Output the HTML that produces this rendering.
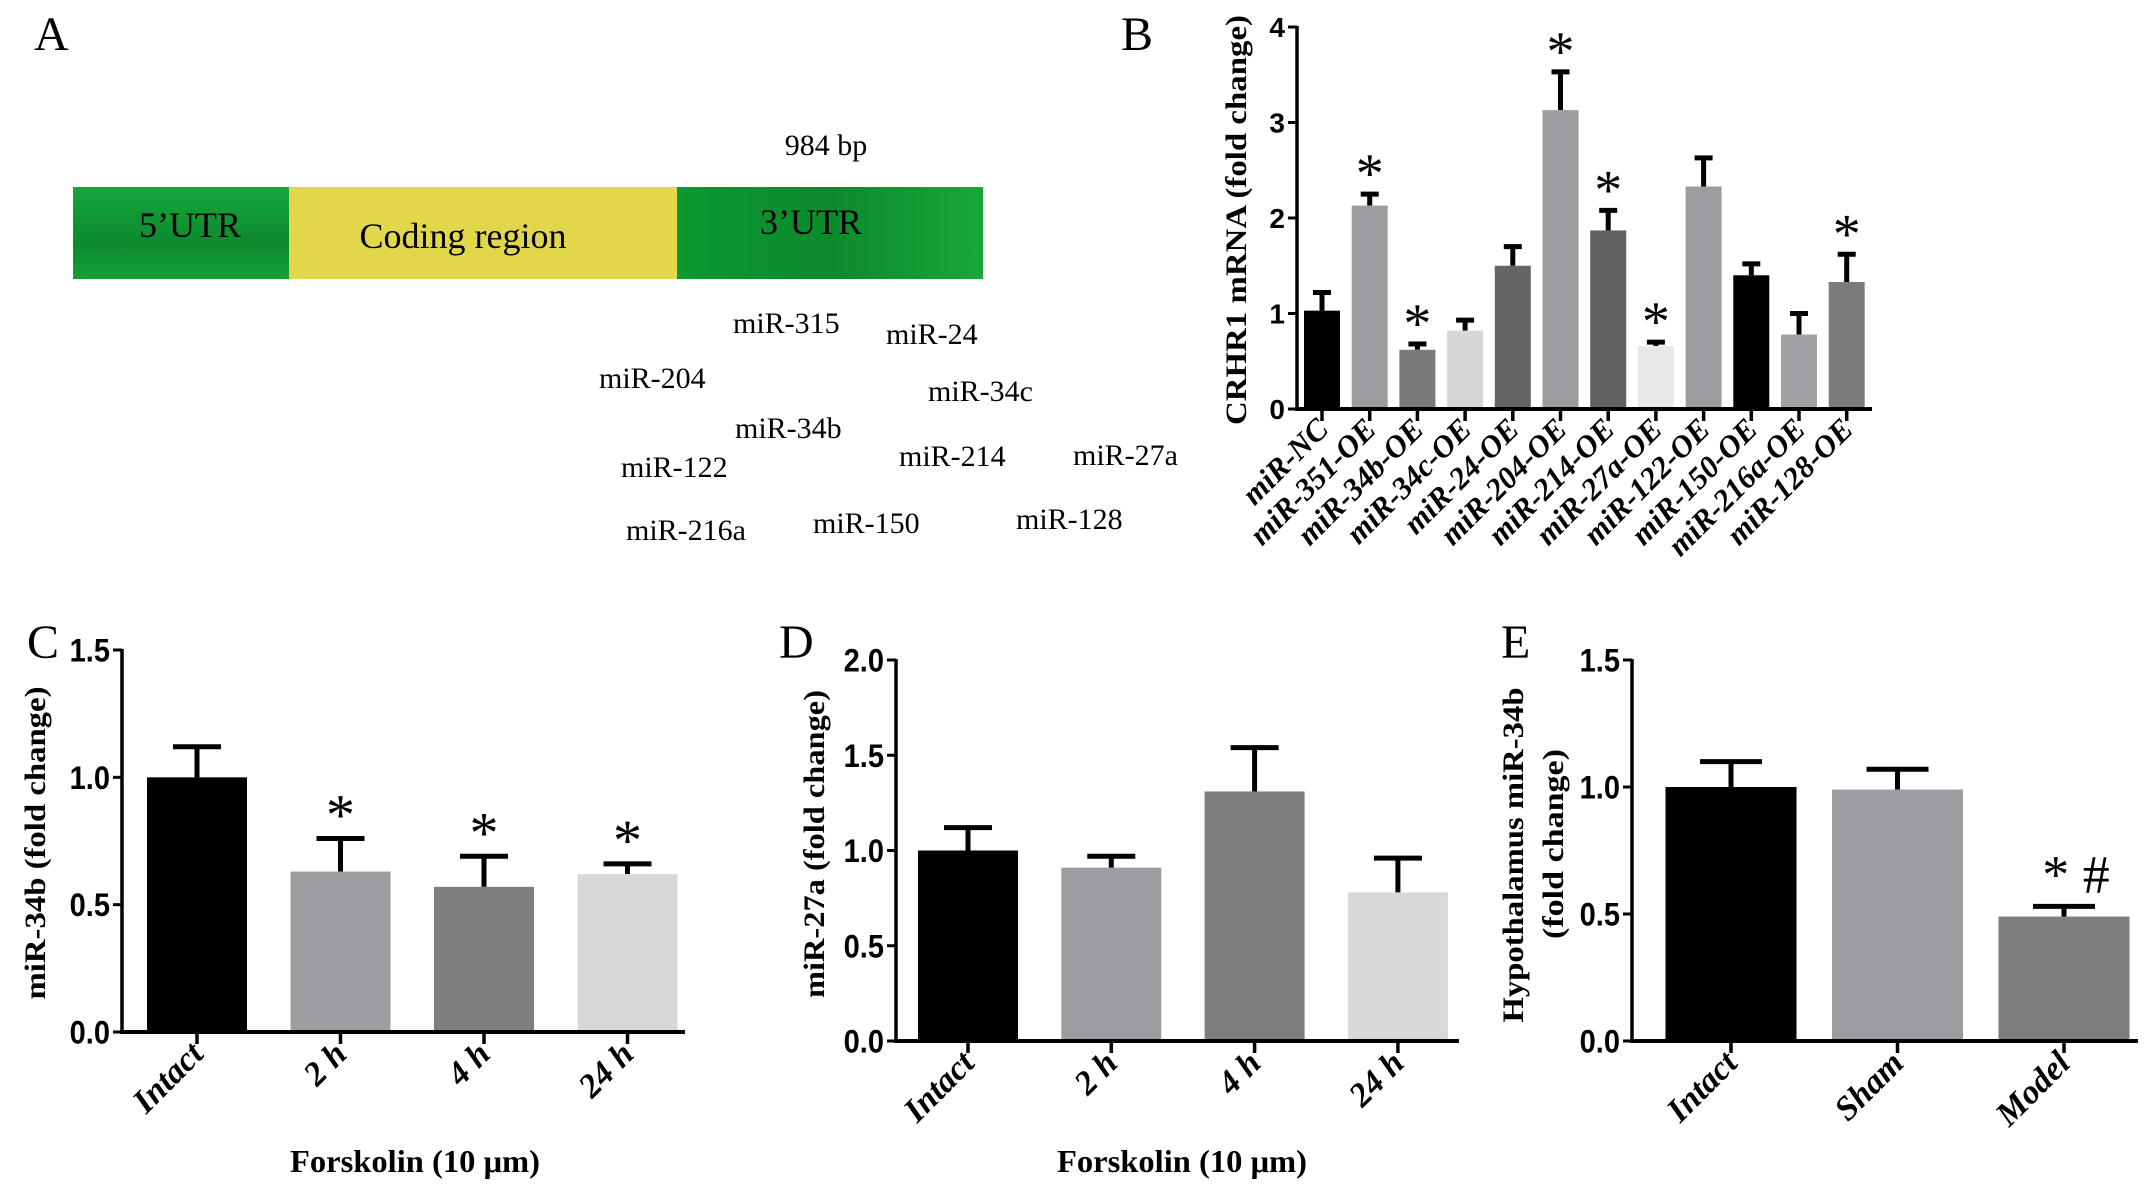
<!DOCTYPE html>
<html><head><meta charset="utf-8"><style>
html,body{margin:0;padding:0;background:#fff;}
svg{display:block;}
.serif{font-family:"Liberation Serif",serif;}
.sans{font-family:"Liberation Sans Narrow","Liberation Sans",sans-serif;}
</style></head><body>
<svg id="fig" width="2150" height="1191" viewBox="0 0 2150 1191" xmlns="http://www.w3.org/2000/svg">
<defs>
<linearGradient id="g5" x1="0" y1="0" x2="0" y2="1"><stop offset="0" stop-color="#14a83a"/><stop offset="0.6" stop-color="#0d8a2e"/><stop offset="1" stop-color="#12a033"/></linearGradient>
<linearGradient id="g3" x1="0" y1="0" x2="1" y2="0"><stop offset="0" stop-color="#0a9a30"/><stop offset="0.5" stop-color="#0c8a2c"/><stop offset="1" stop-color="#18a838"/></linearGradient>
</defs>
<g>
<text x="34" y="50" class="serif" font-size="48">A</text>
<text x="826" y="155" class="serif" font-size="30" text-anchor="middle">984 bp</text>
<rect x="73" y="187" width="216" height="92" fill="url(#g5)"/>
<rect x="289" y="187" width="388" height="92" fill="#e2d64a"/>
<rect x="677" y="187" width="306" height="92" fill="url(#g3)"/>
<text x="190" y="237" class="serif" font-size="36" text-anchor="middle">5’UTR</text>
<text x="463" y="248" class="serif" font-size="36" text-anchor="middle">Coding region</text>
<text x="811" y="234" class="serif" font-size="36" text-anchor="middle">3’UTR</text>
<g class="serif" font-size="30">
<text x="733" y="333">miR-315</text>
<text x="886" y="344">miR-24</text>
<text x="599" y="388">miR-204</text>
<text x="928" y="401">miR-34c</text>
<text x="735" y="438">miR-34b</text>
<text x="621" y="477">miR-122</text>
<text x="899" y="466">miR-214</text>
<text x="1073" y="465">miR-27a</text>
<text x="626" y="540">miR-216a</text>
<text x="813" y="533">miR-150</text>
<text x="1016" y="529">miR-128</text>
</g>
</g>
<text x="1121" y="50" class="serif" font-size="48">B</text>
<text x="27" y="658" class="serif" font-size="48">C</text>
<text x="779" y="658" class="serif" font-size="48">D</text>
<text x="1501" y="658" class="serif" font-size="48">E</text>
</svg>
<script>
// Panel B data
const catsB = ["miR-NC","miR-351-OE","miR-34b-OE","miR-34c-OE","miR-24-OE","miR-204-OE","miR-214-OE","miR-27a-OE","miR-122-OE","miR-150-OE","miR-216a-OE","miR-128-OE"];
const valsB = [1.03,2.13,0.62,0.82,1.5,3.13,1.87,0.66,2.33,1.4,0.78,1.33];
const errB = [1.22,2.25,0.68,0.93,1.7,3.53,2.08,0.70,2.63,1.52,1.0,1.62];
const sigB = ["","*","*","","","*","*","*","","","","*"];
const ticksB = [0,1,2,3,4];
const tickLabelsB = ["0","1","2","3","4"];
// Panel C data
const catsC = ["Intact","2 h","4 h","24 h"];
const valsC = [1.0,0.63,0.57,0.62];
const errC = [1.12,0.76,0.69,0.66];
const sigC = ["","*","*","*"];
const ticksC = [0,0.5,1.0,1.5];
const tickLabelsC = ["0.0","0.5","1.0","1.5"];
// Panel D data
const catsD = ["Intact","2 h","4 h","24 h"];
const valsD = [1.0,0.91,1.31,0.78];
const errD = [1.12,0.97,1.54,0.96];
const sigD = ["","","",""];
const ticksD = [0,0.5,1.0,1.5,2.0];
const tickLabelsD = ["0.0","0.5","1.0","1.5","2.0"];
// Panel E data
const catsE = ["Intact","Sham","Model"];
const valsE = [1.0,0.99,0.49];
const errE = [1.1,1.07,0.53];
const sigE = ["","","* #"];
const ticksE = [0,0.5,1.0,1.5];
const tickLabelsE = ["0.0","0.5","1.0","1.5"];

const NS = "http://www.w3.org/2000/svg";
const svg = document.getElementById("fig");
function mk(tag, attrs, parent){
  const e = document.createElementNS(NS, tag);
  for (const k in attrs) e.setAttribute(k, attrs[k]);
  (parent || svg).appendChild(e);
  return e;
}
function chart(o){
  const g = mk("g", {});
  
  
  const y = v => o.y0 - (v / o.ymax) * (o.y0 - o.ytop);
  const x = i => o.first + i * o.step;
  o.vals.forEach((v, i) => {
    const cx = x(i);
    const err = mk("line", {x1: cx, x2: cx, y1: y(v), y2: y(o.errs[i]), stroke: "#000", "stroke-width": o.ew}, g);
    
    
    const cap = mk("line", {x1: cx - o.cap/2, x2: cx + o.cap/2, y1: y(o.errs[i]), y2: y(o.errs[i]), stroke: "#000", "stroke-width": o.ew}, g);
    
    
    const r = mk("rect", {x: cx - o.bw/2, y: y(v), width: o.bw, height: o.y0 - y(v), fill: o.colors[i]}, g);
    
    
    if (o.sig[i]) {
      const s = mk("text", {x: cx + (o.sig[i].length > 1 ? 12 : 0), y: y(o.errs[i]) - o.sigOff, "font-size": o.sigSize, "text-anchor": "middle", "class": "serif"}, g);
      s.textContent = o.sig[i];
      
      
    }
    const tk = mk("line", {x1: cx, x2: cx, y1: o.y0, y2: o.y0 + 12, stroke: "#000", "stroke-width": 3.5}, g);
    
    
    const lbl = mk("text", {x: 0, y: 0, "font-size": o.xlSize, "font-weight": "bold", "font-style": "italic", "text-anchor": "end", "class": "serif",
      transform: "translate(" + (cx + 8) + "," + (o.y0 + o.xlOff) + ") rotate(-45)"}, g);
    lbl.textContent = o.cats[i];
    
    
  });
  const ya = mk("line", {x1: o.ax, x2: o.ax, y1: o.ytop - 1, y2: o.y0 + 2, stroke: "#000", "stroke-width": 3.5}, g);
  
  
  const xa = mk("line", {x1: o.ax - 2, x2: o.xEnd, y1: o.y0, y2: o.y0, stroke: "#000", "stroke-width": 4}, g);
  
  
  o.ticks.forEach((t, i) => {
    const tl = mk("line", {x1: o.ax - 9, x2: o.ax, y1: y(t), y2: y(t), stroke: "#000", "stroke-width": 3}, g);
    
    
    const lab = o.tickLabels[i];
    const attrs = {x: o.ax - 12, y: y(t) + o.tlSize*0.36, "font-size": o.tlSize, "font-weight": "bold", "text-anchor": "end", "class": "sans"};
    if (lab.length > 1) { attrs.textLength = lab.length * o.tlSize * 0.42; attrs.lengthAdjust = "spacingAndGlyphs"; }
    const tt = mk("text", attrs, g);
    tt.textContent = lab;
    
    
  });
  o.ytitles.forEach(t => {
    const yt = mk("text", {x: 0, y: 0, "font-size": t.size, "font-weight": "bold", "text-anchor": "middle", "class": "serif",
      textLength: t.len, lengthAdjust: "spacingAndGlyphs",
      transform: "translate(" + t.x + "," + t.y + ") rotate(-90)"}, g);
    yt.textContent = t.text;
    
    
  });
  if (o.xtitle) {
    const xt = mk("text", {x: o.xtitle.x, y: o.xtitle.y, "font-size": 32, "font-weight": "bold", "text-anchor": "middle", "class": "serif",
      textLength: 250, lengthAdjust: "spacingAndGlyphs"}, g);
    xt.textContent = o.xtitle.text;
    
    
  }
}
chart({name:"panel-b-chart", cats:catsB, vals:valsB, errs:errB, sig:sigB, ticks:ticksB, tickLabels:tickLabelsB,
  colors:["#000","#9d9da1","#7a7a7a","#d6d6d6","#646464","#9d9da1","#616161","#e8e8e8","#9d9da1","#000","#a2a2a6","#7b7b7b"],
  ax:1297, y0:409, ytop:27, ymax:4, first:1322, step:47.7, xEnd:1872, bw:36, cap:18, ew:5, sigSize:56, sigOff:2,
  xlSize:31, xlOff:22, tlSize:28,
  ytitles:[{text:"CRHR1 mRNA (fold change)", x:1246, y:220, size:30, len:410}]});
chart({name:"panel-c-chart", cats:catsC, vals:valsC, errs:errC, sig:sigC, ticks:ticksC, tickLabels:tickLabelsC,
  colors:["#000","#9d9da1","#7e7e7e","#d8d8d8"],
  ax:122, y0:1032, ytop:650, ymax:1.5, first:197, step:143.5, xEnd:685, bw:100, cap:48, ew:5, sigSize:58, sigOff:4,
  xlSize:34, xlOff:24, tlSize:32,
  ytitles:[{text:"miR-34b (fold change)", x:45, y:843, size:30, len:313}],
  xtitle:{text:"Forskolin (10 μm)", x:415, y:1172}});
chart({name:"panel-d-chart", cats:catsD, vals:valsD, errs:errD, sig:sigD, ticks:ticksD, tickLabels:tickLabelsD,
  colors:["#000","#9d9da1","#7e7e7e","#d8d8d8"],
  ax:896, y0:1041, ytop:660, ymax:2.0, first:968, step:143.3, xEnd:1459, bw:100, cap:48, ew:5, sigSize:58, sigOff:4,
  xlSize:34, xlOff:24, tlSize:32,
  ytitles:[{text:"miR-27a (fold change)", x:824, y:844, size:30, len:308}],
  xtitle:{text:"Forskolin (10 μm)", x:1182, y:1172}});
chart({name:"panel-e-chart", cats:catsE, vals:valsE, errs:errE, sig:sigE, ticks:ticksE, tickLabels:tickLabelsE,
  colors:["#000","#9d9da1","#7e7e7e"],
  ax:1632, y0:1041, ytop:660, ymax:1.5, first:1731, step:166.5, xEnd:2138, bw:131, cap:62, ew:5, sigSize:54, sigOff:14,
  xlSize:34, xlOff:24, tlSize:32,
  ytitles:[{text:"Hypothalamus miR-34b", x:1523, y:855, size:30, len:335},
           {text:"(fold change)", x:1563, y:844, size:30, len:190}]});
</script>
</body></html>
